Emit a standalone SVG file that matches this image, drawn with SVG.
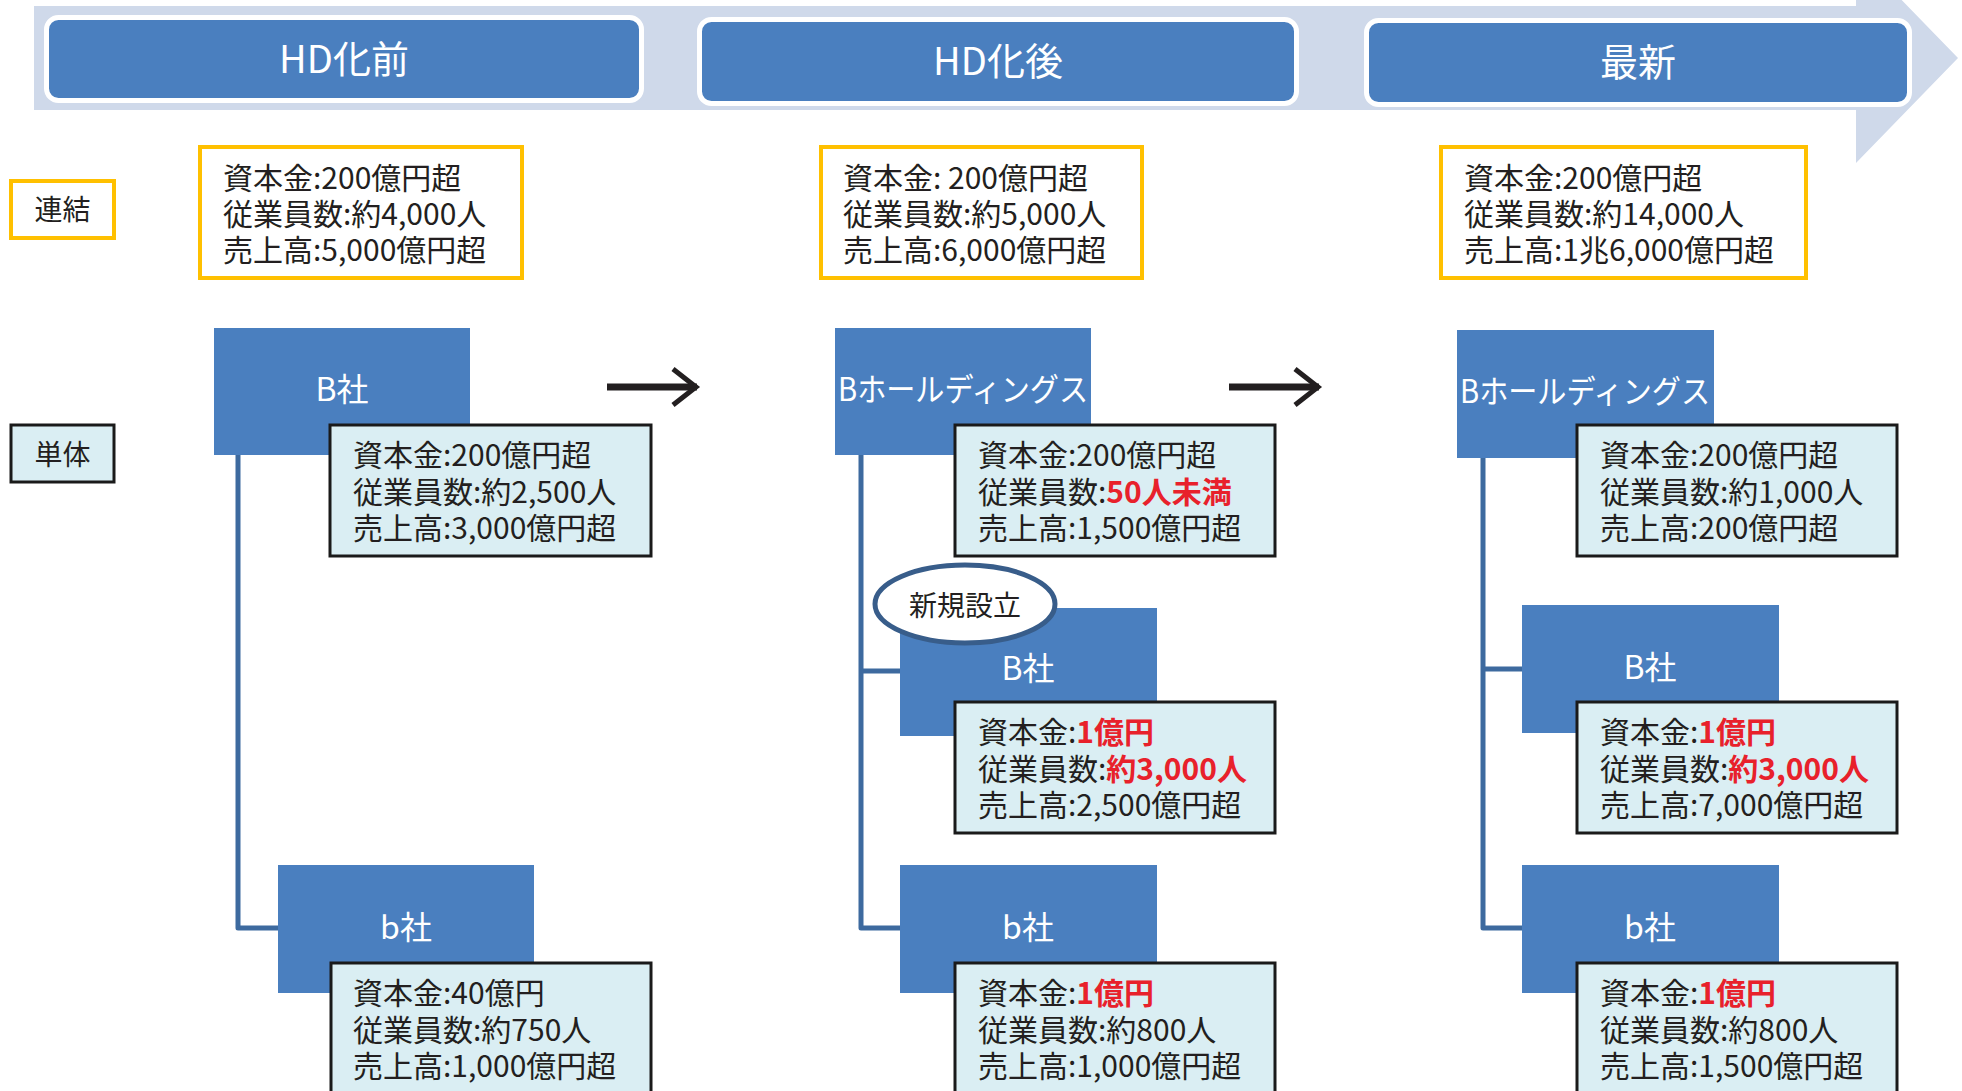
<svg xmlns="http://www.w3.org/2000/svg" width="1962" height="1091" viewBox="0 0 1962 1091">
<defs>
<style>
.hdr{fill:#4a7fbf;stroke:#ffffff;stroke-width:5}
.hdrt{font-family:"Noto Sans CJK JP","Noto Sans",sans-serif;font-size:38px;fill:#ffffff;text-anchor:middle}
.cons{fill:#ffffff;stroke:#ffc000;stroke-width:4}
.lbl{fill:#daeef3;stroke:#1a1a1a;stroke-width:3}
.co{fill:#4a7fbf}
.cot{font-family:"Noto Sans CJK JP","Noto Sans",sans-serif;font-size:32px;fill:#ffffff;text-anchor:middle}
.info{fill:#daeef3;stroke:#1a1a1a;stroke-width:3}
.t{font-family:"Noto Sans CJK JP","Noto Sans",sans-serif;font-size:30px;fill:#231f20}
.side{font-family:"Noto Sans CJK JP","Noto Sans",sans-serif;font-size:28px;fill:#231f20;text-anchor:middle}
.red{fill:#e8212b;font-weight:bold}
.conn{fill:none;stroke:#3d6a9f;stroke-width:5;stroke-linejoin:round}
.arr{fill:none;stroke:#231f20;stroke-width:7}
</style>
<marker id="chev" markerUnits="userSpaceOnUse" markerWidth="34" markerHeight="44" refX="28" refY="22" orient="auto">
<path d="M4,4 L27,22 L4,40" fill="none" stroke="#231f20" stroke-width="5"/>
</marker>
</defs>

<g id="timeline">
<polygon points="34,6 1856,6 1856,-47 1958,58 1856,163 1856,110 34,110" fill="#cfd9ea"/>
</g>

<g id="header-before">
<rect class="hdr" x="46.5" y="17.5" width="595" height="83" rx="12"/>
<text class="hdrt" x="344" y="73">HD化前</text>
</g>
<g id="header-after">
<rect class="hdr" x="699.5" y="19.5" width="597" height="84" rx="12"/>
<text class="hdrt" x="998" y="75">HD化後</text>
</g>
<g id="header-latest">
<rect class="hdr" x="1366.5" y="20.5" width="543" height="84" rx="12"/>
<text class="hdrt" x="1638" y="76">最新</text>
</g>

<g id="label-consolidated">
<rect class="cons" x="11" y="181" width="103" height="57"/>
<text class="side" x="62.5" y="220">連結</text>
</g>
<g id="label-single">
<rect class="lbl" x="11" y="425" width="103" height="57"/>
<text class="side" x="62.5" y="465">単体</text>
</g>

<g id="cons-before">
<rect class="cons" x="200" y="147" width="322" height="131"/>
<text class="t" x="223" y="189">資本金:200億円超</text>
<text class="t" x="223" y="225">従業員数:約4,000人</text>
<text class="t" x="223" y="261">売上高:5,000億円超</text>
</g>
<g id="cons-after">
<rect class="cons" x="821" y="147" width="321" height="131"/>
<text class="t" x="843" y="189">資本金: 200億円超</text>
<text class="t" x="843" y="225">従業員数:約5,000人</text>
<text class="t" x="843" y="261">売上高:6,000億円超</text>
</g>
<g id="cons-latest">
<rect class="cons" x="1441" y="147" width="365" height="131"/>
<text class="t" x="1464" y="189">資本金:200億円超</text>
<text class="t" x="1464" y="225">従業員数:約14,000人</text>
<text class="t" x="1464" y="261">売上高:1兆6,000億円超</text>
</g>

<g id="connectors">
<path class="conn" d="M238,455 V928 H280"/>
<path class="conn" d="M861,455 V928 H902 M861,671 H902"/>
<path class="conn" d="M1483,458 V928 H1524 M1483,669 H1524"/>
<path class="arr" d="M607,387 H697" marker-end="url(#chev)"/>
<path class="arr" d="M1229,387 H1319" marker-end="url(#chev)"/>
</g>

<g id="b-before">
<rect class="co" x="214" y="328" width="256" height="127"/>
<text class="cot" x="342" y="401">B社</text>
<rect class="info" x="330" y="425" width="321" height="131"/>
<text class="t" x="353" y="466">資本金:200億円超</text>
<text class="t" x="353" y="503">従業員数:約2,500人</text>
<text class="t" x="353" y="539">売上高:3,000億円超</text>
</g>
<g id="bsub-before">
<rect class="co" x="278" y="865" width="256" height="128"/>
<text class="cot" x="406" y="939">b社</text>
<rect class="info" x="331" y="963" width="320" height="140"/>
<text class="t" x="353" y="1004">資本金:40億円</text>
<text class="t" x="353" y="1041">従業員数:約750人</text>
<text class="t" x="353" y="1077">売上高:1,000億円超</text>
</g>

<g id="hd-after">
<rect class="co" x="835" y="328" width="256" height="127"/>
<text class="cot" x="963" y="401" textLength="250" lengthAdjust="spacingAndGlyphs">Bホールディングス</text>
<rect class="info" x="955" y="425" width="320" height="131"/>
<text class="t" x="978" y="466">資本金:200億円超</text>
<text class="t" x="978" y="503">従業員数:<tspan class="red">50人未満</tspan></text>
<text class="t" x="978" y="539">売上高:1,500億円超</text>
</g>
<g id="b-after">
<rect class="co" x="900" y="608" width="257" height="128"/>
<text class="cot" x="1028" y="680">B社</text>
<rect class="info" x="955" y="702" width="320" height="131"/>
<text class="t" x="978" y="743">資本金:<tspan class="red">1億円</tspan></text>
<text class="t" x="978" y="780">従業員数:<tspan class="red">約3,000人</tspan></text>
<text class="t" x="978" y="816">売上高:2,500億円超</text>
</g>
<g id="new-tag">
<ellipse cx="965" cy="604" rx="90" ry="39" fill="#ffffff" stroke="#385d8a" stroke-width="5"/>
<text class="side" x="965" y="616">新規設立</text>
</g>
<g id="bsub-after">
<rect class="co" x="900" y="865" width="257" height="128"/>
<text class="cot" x="1028" y="939">b社</text>
<rect class="info" x="955" y="963" width="320" height="140"/>
<text class="t" x="978" y="1004">資本金:<tspan class="red">1億円</tspan></text>
<text class="t" x="978" y="1041">従業員数:約800人</text>
<text class="t" x="978" y="1077">売上高:1,000億円超</text>
</g>

<g id="hd-latest">
<rect class="co" x="1457" y="330" width="257" height="128"/>
<text class="cot" x="1585" y="403" textLength="250" lengthAdjust="spacingAndGlyphs">Bホールディングス</text>
<rect class="info" x="1577" y="425" width="320" height="131"/>
<text class="t" x="1600" y="466">資本金:200億円超</text>
<text class="t" x="1600" y="503">従業員数:約1,000人</text>
<text class="t" x="1600" y="539">売上高:200億円超</text>
</g>
<g id="b-latest">
<rect class="co" x="1522" y="605" width="257" height="128"/>
<text class="cot" x="1650" y="679">B社</text>
<rect class="info" x="1577" y="702" width="320" height="131"/>
<text class="t" x="1600" y="743">資本金:<tspan class="red">1億円</tspan></text>
<text class="t" x="1600" y="780">従業員数:<tspan class="red">約3,000人</tspan></text>
<text class="t" x="1600" y="816">売上高:7,000億円超</text>
</g>
<g id="bsub-latest">
<rect class="co" x="1522" y="865" width="257" height="128"/>
<text class="cot" x="1650" y="939">b社</text>
<rect class="info" x="1577" y="963" width="320" height="140"/>
<text class="t" x="1600" y="1004">資本金:<tspan class="red">1億円</tspan></text>
<text class="t" x="1600" y="1041">従業員数:約800人</text>
<text class="t" x="1600" y="1077">売上高:1,500億円超</text>
</g>
</svg>
